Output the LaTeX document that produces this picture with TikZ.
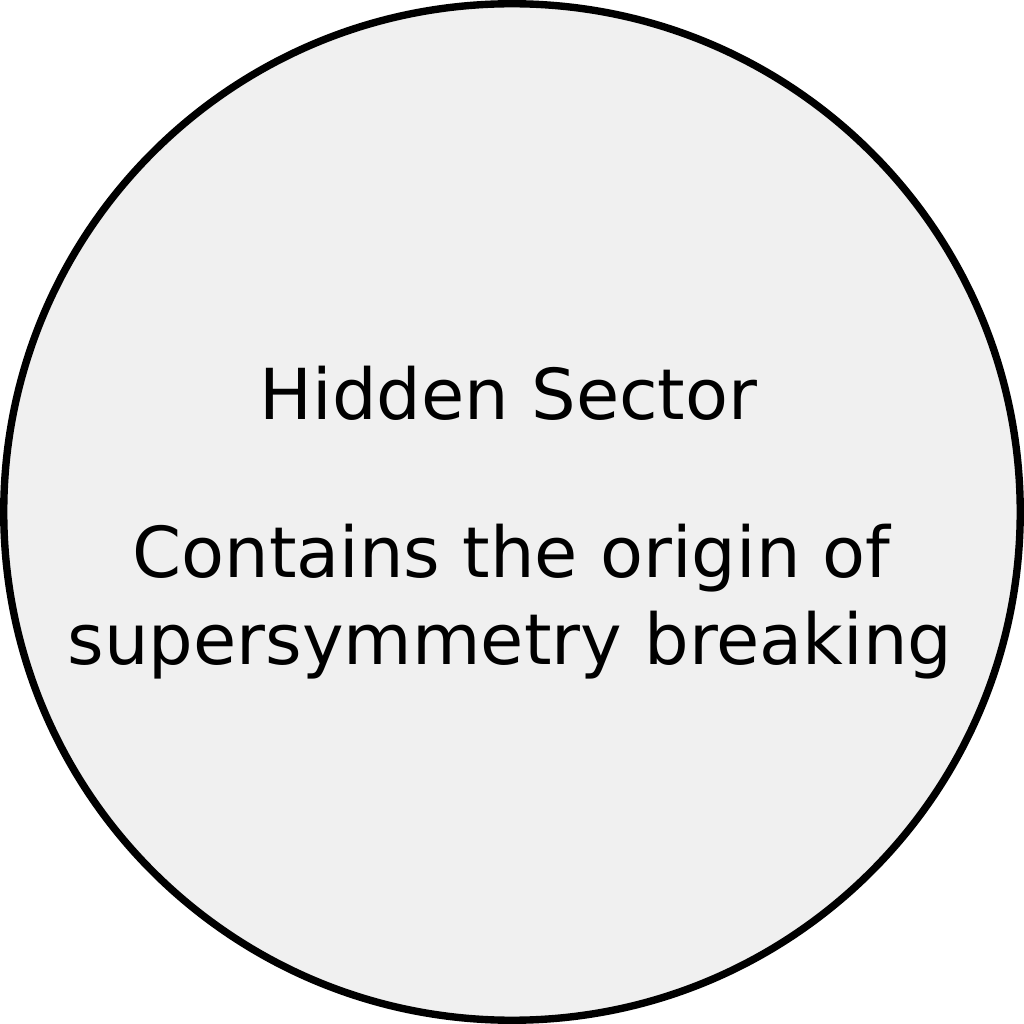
\documentclass[tikz,border=0pt]{standalone}
\usepackage{fontspec}
\setmainfont{DejaVu Sans}
\definecolor{sectorfill}{HTML}{F0F0F0}
\tikzset{
  sector/.style={circle, draw=black, fill=sectorfill, line width=2.1pt, minimum size=10.165cm, inner sep=0pt},
  label/.style={anchor=base, inner sep=0pt, font=\fontsize{20}{24}\selectfont}
}
\begin{document}
\begin{tikzpicture}
\useasboundingbox (0,0) rectangle (10.24,10.24);
\node[sector] (hs) at (5.12,5.12) {};
\node[label] (t1) at (5.085,6.04) {Hidden Sector};
\node[label] (t2) at (5.115,4.46) {Contains the origin of};
\node[label] (t3) at (5.10,3.59) {supersymmetry breaking};
\end{tikzpicture}
\end{document}
